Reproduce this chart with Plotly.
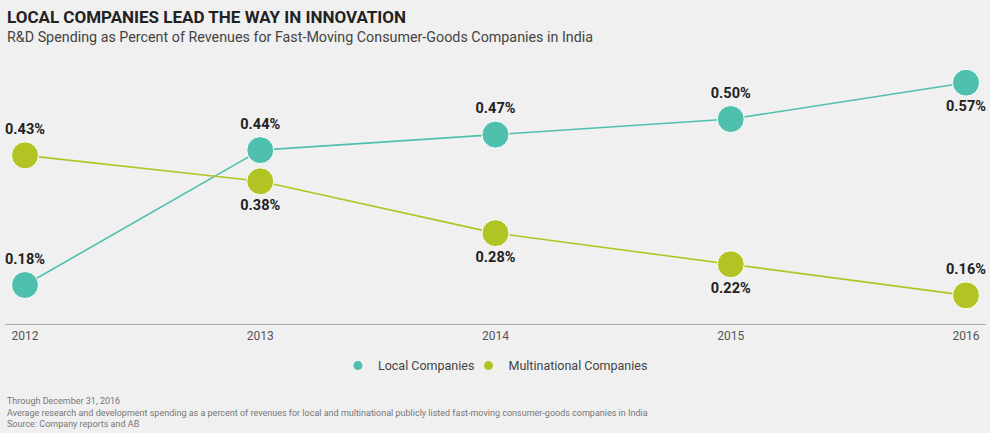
import plotly.graph_objects as go

years = [2012, 2013, 2014, 2015, 2016]
local_pct = [0.18, 0.44, 0.47, 0.50, 0.57]
multi_pct = [0.43, 0.38, 0.28, 0.22, 0.16]

title = "LOCAL COMPANIES LEAD THE WAY IN INNOVATION"
subtitle = "R&D Spending as Percent of Revenues for Fast-Moving Consumer-Goods Companies in India"
notes = [
    "Through December 31, 2016",
    "Average research and development spending as a percent of revenues for local and multinational publicly listed fast-moving consumer-goods companies in India",
    "Source: Company reports and AB",
]

teal = "#4fbfae"
lime = "#b2c424"
bg = "#f0f0f0"
font = "Roboto"

fig = go.Figure()

fig.add_trace(go.Scatter(
    x=years, y=local_pct, mode="lines+markers+text",
    line=dict(color=teal, width=1.6),
    marker=dict(size=27, color=teal, line=dict(color="white", width=1)),
    text=[f"{v:.2f}%" for v in local_pct],
    textposition=["top center"] * 4 + ["bottom center"],
    textfont=dict(family=font, size=14.5, color="#222222", weight="bold"),
    showlegend=False, cliponaxis=False,
))
fig.add_trace(go.Scatter(
    x=years, y=multi_pct, mode="lines+markers+text",
    line=dict(color=lime, width=1.6),
    marker=dict(size=27, color=lime, line=dict(color="white", width=1)),
    text=[f"{v:.2f}%" for v in multi_pct],
    textposition=["top center"] + ["bottom center"] * 3 + ["top center"],
    textfont=dict(family=font, size=14.5, color="#222222", weight="bold"),
    showlegend=False, cliponaxis=False,
))

# legend-only entries so the legend dots stay small, one legend box each
for name, c, lg in [("Local Companies", teal, "legend"), ("Multinational Companies", lime, "legend2")]:
    fig.add_trace(go.Scatter(x=[None], y=[None], mode="markers", name=name, legend=lg,
                             marker=dict(size=9, color=c)))

fig.update_xaxes(range=[2011.915, 2016.085], tickvals=years, ticktext=[str(y) for y in years],
                 showgrid=False, zeroline=False, showline=True, linecolor="#aaaaaa", linewidth=1.2,
                 ticks="", tickfont=dict(family=font, size=12, color="#555555"))
fig.update_yaxes(range=[0.1048, 0.6138], visible=False, showgrid=False, zeroline=False)

anns = [
    dict(text=f"<b>{title}</b>", x=0.0, y=17, font=dict(size=17, color="#222222")),
    dict(text=subtitle, x=0.0, y=37, font=dict(size=14.3, color="#444444")),
]
for i, n in enumerate(notes):
    anns.append(dict(text=n, x=0.0, y=401 + 11.5 * i, font=dict(size=9, color="#777777")))

for a in anns:
    ypx = a.pop("y")
    fig.add_annotation(xref="paper", yref="paper", x=a.pop("x"), y=(324 - ypx) / 264,
                       xanchor="left", yanchor="middle", showarrow=False,
                       font=dict(family=font, **a.pop("font")), **a)

leg = dict(orientation="h", xanchor="left", y=-0.159, yanchor="middle",
           font=dict(family=font, size=12.5, color="#444444"), bgcolor="rgba(0,0,0,0)")

fig.update_layout(
    width=990, height=433,
    margin=dict(l=5, r=4, t=60, b=109),
    paper_bgcolor=bg, plot_bgcolor=bg,
    font=dict(family=font),
    legend=dict(x=0.3394, **leg),
    legend2=dict(x=0.4725, **leg),
)

fig.write_html("out.html", config={"displayModeBar": False},
               post_script="document.body.style.margin='0';")
